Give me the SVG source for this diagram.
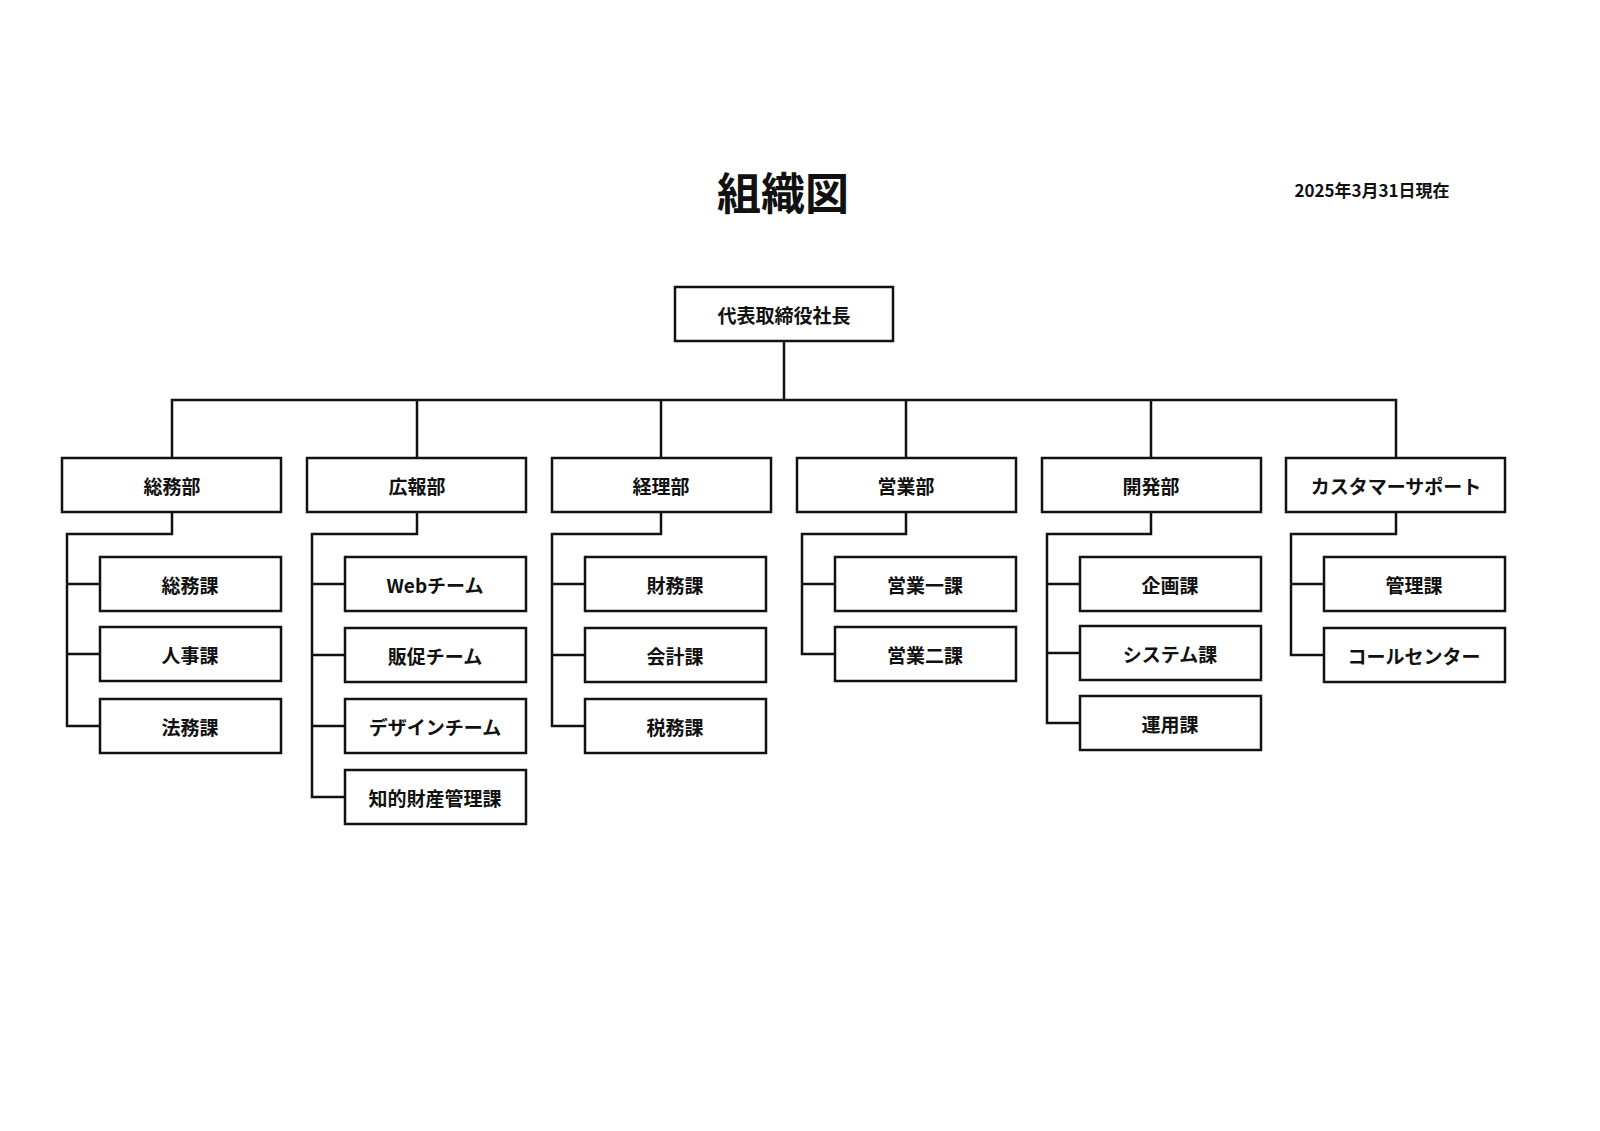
<svg xmlns="http://www.w3.org/2000/svg" width="1600" height="1131" viewBox="0 0 1600 1131">
<style>
rect{fill:#fff;stroke:#111;stroke-width:2.5}
.c{fill:none;stroke:#111;stroke-width:2.5}
text{font-family:"Noto Sans CJK JP","Noto Sans",sans-serif;font-weight:bold;fill:#111;text-anchor:middle;dominant-baseline:central;font-size:19px}
</style>
<rect width="1600" height="1131" style="fill:#fff;stroke:none"/>
<text x="783" y="191" style="font-size:44px">組織図</text>
<text x="1372" y="189" style="font-size:17px">2025年3月31日現在</text>
<g id="connectors" class="c">
<path class="c" d="M784 341V400M172 458V400H1396V458M417 400V458M661 400V458M906 400V458M1151 400V458"/>
<path class="c" d="M172 512V534H67V726H100M67 584H100M67 654H100"/>
<path class="c" d="M417 512V534H312V797H345M312 584H345M312 655H345M312 726H345"/>
<path class="c" d="M661 512V534H552V726H585M552 584H585M552 655H585"/>
<path class="c" d="M906 512V534H802V654H835M802 584H835"/>
<path class="c" d="M1151 512V534H1047V723H1080M1047 584H1080M1047 653H1080"/>
<path class="c" d="M1396 512V534H1291V655H1324M1291 584H1324"/>
</g>
<g id="ceo"><rect x="675" y="287" width="218" height="54"/><text x="784" y="314">代表取締役社長</text></g>
<g id="d1"><rect x="62" y="458" width="219" height="54"/><text x="172" y="485">総務部</text></g>
<g id="d2"><rect x="307" y="458" width="219" height="54"/><text x="417" y="485">広報部</text></g>
<g id="d3"><rect x="552" y="458" width="219" height="54"/><text x="661" y="485">経理部</text></g>
<g id="d4"><rect x="797" y="458" width="219" height="54"/><text x="906" y="485">営業部</text></g>
<g id="d5"><rect x="1042" y="458" width="219" height="54"/><text x="1151" y="485">開発部</text></g>
<g id="d6"><rect x="1286" y="458" width="219" height="54"/><text x="1396" y="485">カスタマーサポート</text></g>
<g id="s11"><rect x="100" y="557" width="181" height="54"/><text x="190" y="584">総務課</text></g>
<g id="s12"><rect x="100" y="627" width="181" height="54"/><text x="190" y="654">人事課</text></g>
<g id="s13"><rect x="100" y="699" width="181" height="54"/><text x="190" y="726">法務課</text></g>
<g id="s21"><rect x="345" y="557" width="181" height="54"/><text x="435" y="584">Webチーム</text></g>
<g id="s22"><rect x="345" y="628" width="181" height="54"/><text x="435" y="655">販促チーム</text></g>
<g id="s23"><rect x="345" y="699" width="181" height="54"/><text x="435" y="726">デザインチーム</text></g>
<g id="s24"><rect x="345" y="770" width="181" height="54"/><text x="435" y="797">知的財産管理課</text></g>
<g id="s31"><rect x="585" y="557" width="181" height="54"/><text x="675" y="584">財務課</text></g>
<g id="s32"><rect x="585" y="628" width="181" height="54"/><text x="675" y="655">会計課</text></g>
<g id="s33"><rect x="585" y="699" width="181" height="54"/><text x="675" y="726">税務課</text></g>
<g id="s41"><rect x="835" y="557" width="181" height="54"/><text x="925" y="584">営業一課</text></g>
<g id="s42"><rect x="835" y="627" width="181" height="54"/><text x="925" y="654">営業二課</text></g>
<g id="s51"><rect x="1080" y="557" width="181" height="54"/><text x="1170" y="584">企画課</text></g>
<g id="s52"><rect x="1080" y="626" width="181" height="54"/><text x="1170" y="653">システム課</text></g>
<g id="s53"><rect x="1080" y="696" width="181" height="54"/><text x="1170" y="723">運用課</text></g>
<g id="s61"><rect x="1324" y="557" width="181" height="54"/><text x="1414" y="584">管理課</text></g>
<g id="s62"><rect x="1324" y="628" width="181" height="54"/><text x="1414" y="655">コールセンター</text></g>
</svg>
